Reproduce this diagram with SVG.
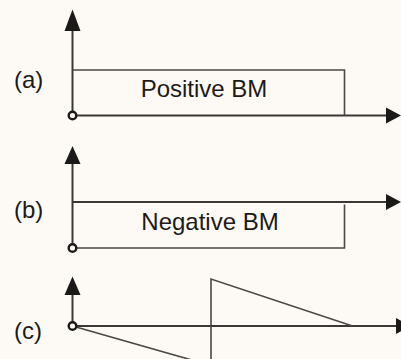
<svg xmlns="http://www.w3.org/2000/svg" width="401" height="359" viewBox="0 0 401 359">
  <style>
    .axis { stroke: #3a3836; stroke-width: 2; fill: none; }
    .shape { stroke: #4a4745; stroke-width: 1.6; fill: none; }
    .head { fill: #1c1a19; stroke: none; }
    .origin { fill: #fdfaf6; stroke: #1c1a19; stroke-width: 2.4; }
    .label { font-family: "Liberation Sans", Arial, sans-serif; font-size: 24px; fill: #1c1a19; }
    .tag { font-family: "Liberation Sans", Arial, sans-serif; font-size: 24px; fill: #1c1a19; }
  </style>
  <rect width="401" height="359" fill="#fdfaf6"/>

  <!-- (a) positive bending moment -->
  <g id="panel-a">
    <text class="tag" x="14" y="88">(a)</text>
    <line class="axis" x1="72.5" y1="30" x2="72.5" y2="115"/>
    <polygon class="head" points="72.5,9.5 80.5,31 64.5,31"/>
    <line class="axis" x1="72.5" y1="115.5" x2="388" y2="115.5"/>
    <polygon class="head" points="401,115.5 386,107.5 386,123.5"/>
    <polyline class="shape" points="72.5,70 344.5,70 344.5,115"/>
    <text class="label" x="204" y="97" text-anchor="middle">Positive BM</text>
    <circle class="origin" cx="72.5" cy="115.5" r="3.8"/>
  </g>

  <!-- (b) negative bending moment -->
  <g id="panel-b">
    <text class="tag" x="14" y="218">(b)</text>
    <line class="axis" x1="72.5" y1="163" x2="72.5" y2="248"/>
    <polygon class="head" points="72.5,146 80.5,164 64.5,164"/>
    <line class="axis" x1="72.5" y1="202" x2="388" y2="202"/>
    <polygon class="head" points="401,202 386,194 386,210"/>
    <polyline class="shape" points="72.5,248 344.5,248 344.5,204.5"/>
    <text class="label" x="210" y="230" text-anchor="middle">Negative BM</text>
    <circle class="origin" cx="72.5" cy="248" r="3.8"/>
  </g>

  <!-- (c) reversing moment -->
  <g id="panel-c">
    <text class="tag" x="14" y="339">(c)</text>
    <line class="axis" x1="72.5" y1="294" x2="72.5" y2="326"/>
    <polygon class="head" points="72.5,276.5 80.5,295 64.5,295"/>
    <line class="axis" x1="72.5" y1="326" x2="398" y2="326"/>
    <polygon class="head" points="411,326 396,318 396,334"/>
    <polyline class="shape" points="72.5,326 211,365.5"/>
    <polyline class="shape" points="211,365 211,279 352.5,326"/>
    <circle class="origin" cx="72.5" cy="326" r="3.8"/>
  </g>
</svg>
